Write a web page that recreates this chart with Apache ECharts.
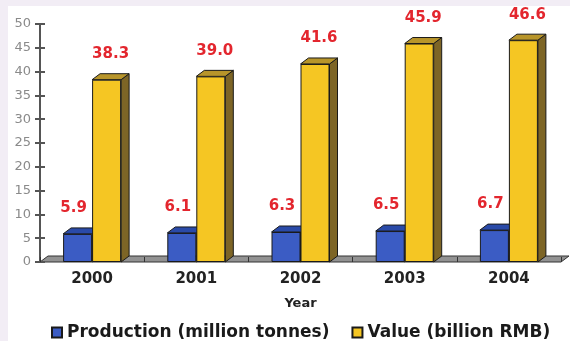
<!DOCTYPE html>
<html><head><meta charset="utf-8">
<script src="https://cdn.jsdelivr.net/npm/echarts@6/dist/echarts.min.js"></script>
<style>html,body{margin:0;padding:0;background:#f2edf5;}#c{width:570px;height:341px;}</style>
</head><body><div id="c"></div>
<script>
const years = ['2000', '2001', '2002', '2003', '2004'];
const production = [5.9, 6.1, 6.3, 6.5, 6.7];
const value = [38.3, 39.0, 41.6, 45.9, 46.6];
const yMin = 0, yMax = 50, yStep = 5;
const seriesNames = ['Production (million tonnes)', 'Value (billion RMB)'];

const BAR_W = 29, DX = 8, DY = 6;
const FONT = 'DejaVu Sans';

function facesRender(side, topColor, sideColor) {
  return function (params, api) {
    const c = api.coord([api.value(0), api.value(1)]);
    const b = api.coord([api.value(0), 0]);
    const x0 = side < 0 ? c[0] - BAR_W : c[0];
    const x1 = x0 + BAR_W;
    const t = c[1], bt = b[1];
    return {
      type: 'group',
      children: [
        { type: 'polygon', shape: { points: [[x1, t], [x1 + DX, t - DY], [x1 + DX, bt - DY], [x1, bt]] },
          style: { fill: sideColor, stroke: '#1a1a1a', lineWidth: 1 } },
        { type: 'polygon', shape: { points: [[x0, t], [x0 + DX, t - DY], [x1 + DX, t - DY], [x1, t]] },
          style: { fill: topColor, stroke: '#1a1a1a', lineWidth: 1 } }
      ]
    };
  };
}

function floorRender(params, api) {
  const cs = params.coordSys;
  const y = cs.y + cs.height;
  return {
    type: 'polygon',
    shape: { points: [[cs.x, y], [cs.x + DX, y - DY], [cs.x + cs.width + DX, y - DY], [cs.x + cs.width, y]] },
    style: { fill: '#929292', stroke: '#333', lineWidth: 1 }
  };
}

const chart = echarts.init(document.getElementById('c'));
chart.setOption({
  animation: false,
  backgroundColor: '#f2edf5',
  graphic: [{ type: 'rect', left: 8, top: 6, shape: { width: 570, height: 341 }, style: { fill: '#ffffff' }, z: -10 }],
  grid: { left: 40, right: 9, top: 24, bottom: 79 },
  legend: {
    data: seriesNames,
    left: 46, top: 319,
    icon: 'rect', itemWidth: 10, itemHeight: 10, itemGap: 22,
    textStyle: { fontFamily: FONT, fontWeight: 'bold', fontSize: 17, color: '#1a1a1a' }
  },
  xAxis: {
    type: 'category', data: years,
    name: 'Year', nameLocation: 'middle', nameGap: 35,
    nameTextStyle: { fontFamily: FONT, fontWeight: 'bold', fontSize: 13, color: '#222' },
    axisLine: { show: false },
    axisTick: { show: true, inside: true, length: 5, lineStyle: { color: '#333' } },
    axisLabel: { margin: 10, fontFamily: FONT, fontWeight: 'bold', fontSize: 15, color: '#222' },
    z: 10
  },
  yAxis: [{
    type: 'value', min: yMin, max: yMax, interval: yStep,
    axisLine: { show: true, lineStyle: { color: '#555', width: 2 } },
    axisTick: { show: true, length: 5, lineStyle: { color: '#555', width: 2 } },
    axisLabel: { margin: 9, fontFamily: FONT, fontSize: 13, color: '#8a8a8a' },
    splitLine: { show: false },
    z: 10
  }, {
    type: 'value', min: yMin, max: yMax, interval: yStep, position: 'left',
    axisLine: { show: false },
    axisTick: { show: true, inside: true, length: 5, lineStyle: { color: '#555', width: 2 } },
    axisLabel: { show: false }, splitLine: { show: false }, z: 10
  }],
  series: [
    { type: 'custom', name: 'floor', data: [[0, 0]], renderItem: floorRender, z: 1, silent: true },
    { type: 'custom', name: 'pf', data: production.map((v, i) => [i, v]), renderItem: facesRender(-1, '#2a4aa8', '#223d8a'), z: 2 },
    { type: 'custom', name: 'vf', data: value.map((v, i) => [i, v]), renderItem: facesRender(1, '#b8952a', '#7d6526'), z: 2 },
    {
      type: 'bar', name: seriesNames[0], data: production, barWidth: BAR_W, barGap: '0%', z: 3,
      itemStyle: { color: '#3b5cc4', borderColor: '#1a1a1a', borderWidth: 1 },
      label: { show: true, position: 'top', distance: 18, offset: [-4, 0], fontFamily: FONT, fontWeight: 'bold', fontSize: 15, color: '#e3262e', formatter: p => p.value.toFixed(1) }
    },
    {
      type: 'bar', name: seriesNames[1], data: value, barWidth: BAR_W, barGap: '0%', z: 3,
      itemStyle: { color: '#f5c623', borderColor: '#1a1a1a', borderWidth: 1 },
      label: { show: true, position: 'top', distance: 18, offset: [4, 0], fontFamily: FONT, fontWeight: 'bold', fontSize: 15, color: '#e3262e', formatter: p => p.value.toFixed(1) }
    }
  ]
});
</script></body></html>
